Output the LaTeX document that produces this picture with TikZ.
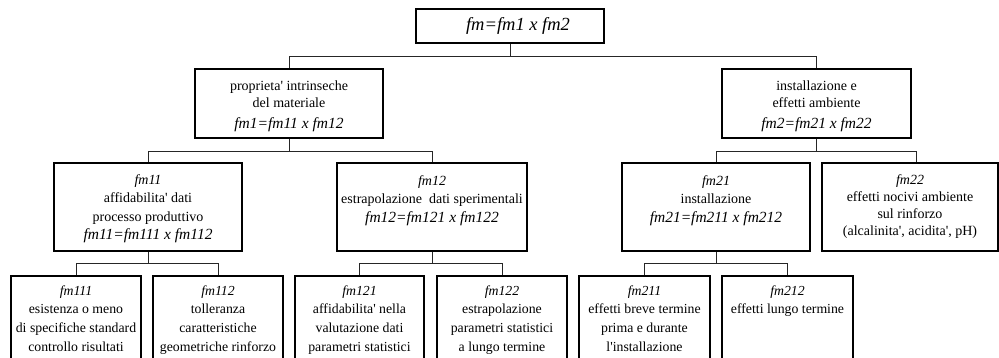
\documentclass[tikz,border=0pt]{standalone}
\usepackage{fontspec}
\setmainfont{Liberation Serif}
\newcommand\q{\textquotesingle}
\newcommand\fml{\fontsize{15.5}{18}\selectfont\itshape}
\begin{document}
\begin{tikzpicture}[x=1pt,y=-1pt,
  box/.style={draw=black, line width=1.8pt, inner sep=0pt},
  conn/.style={draw=black!85, line width=1pt},
  txt/.style={anchor=north, inner sep=0pt, align=center},
  labA/.style={font=\fontsize{14}{17}\selectfont},
  labB/.style={font=\fontsize{14}{18.3}\selectfont},
  labC/.style={font=\fontsize{14}{17}\selectfont},
  labD/.style={font=\fontsize{13.8}{18.7}\selectfont}]
\useasboundingbox (0,0) rectangle (999,358);
\clip (0,0) rectangle (999,358);

% boxes
\node[box, minimum width=188pt, minimum height=34pt] (top) at (510,26) {};
\node[box, minimum width=188pt, minimum height=69pt] (p1) at (289,103.5) {};
\node[box, minimum width=189pt, minimum height=69pt] (p2) at (816.5,103.5) {};
\node[box, minimum width=188pt, minimum height=88pt] (fm11) at (148,207) {};
\node[box, minimum width=190pt, minimum height=88pt] (fm12) at (432,207) {};
\node[box, minimum width=188pt, minimum height=88pt] (fm21) at (716,207) {};
\node[box, minimum width=176pt, minimum height=88pt] (fm22) at (910,207) {};
\node[box, minimum width=130pt, minimum height=100pt] (fm111) at (76,326) {};
\node[box, minimum width=130pt, minimum height=100pt] (fm112) at (218,326) {};
\node[box, minimum width=129pt, minimum height=100pt] (fm121) at (359.5,326) {};
\node[box, minimum width=130pt, minimum height=100pt] (fm122) at (502,326) {};
\node[box, minimum width=131pt, minimum height=100pt] (fm211) at (644.5,326) {};
\node[box, minimum width=131pt, minimum height=100pt] (fm212) at (787.5,326) {};

% texts
\node[inner sep=0pt, font=\fontsize{18.5}{20}\selectfont\itshape] (ttop) at ([xshift=8pt]top.center) {fm=fm1 x fm2};
\node[txt, labA] (tp1) at ([yshift=-12pt]p1.north) {proprieta\q{} intrinseche\\ del materiale\\[4pt] {\fml fm1=fm11 x fm12}};
\node[txt, labA] (tp2) at ([yshift=-12pt]p2.north) {installazione e\\ effetti ambiente\\[4pt] {\fml fm2=fm21 x fm22}};
\node[txt, labB] (tfm11) at ([yshift=-12.5pt]fm11.north) {\textit{fm11}\\ affidabilita\q{} dati\\ processo produttivo\\ {\fml fm11=fm111 x fm112}};
\node[txt, labB] (tfm12) at ([yshift=-13.5pt]fm12.north) {\textit{fm12}\\ estrapolazione\ \ dati sperimentali\\ {\fml fm12=fm121 x fm122}};
\node[txt, labB] (tfm21) at ([yshift=-13.5pt]fm21.north) {\textit{fm21}\\ installazione\\ {\fml fm21=fm211 x fm212}};
\node[txt, labC] (tfm22) at ([yshift=-12.5pt]fm22.north) {\textit{fm22}\\ effetti nocivi ambiente\\ sul rinforzo\\ (alcalinita\q, acidita\q, pH)};
\node[txt, labD] (tfm111) at ([yshift=-10pt]fm111.north) {\textit{fm111}\\ esistenza o meno\\ di specifiche standard\\ controllo risultati};
\node[txt, labD] (tfm112) at ([yshift=-10pt]fm112.north) {\textit{fm112}\\ tolleranza\\ caratteristiche\\ geometriche rinforzo};
\node[txt, labD] (tfm121) at ([yshift=-10pt]fm121.north) {\textit{fm121}\\ affidabilita\q{} nella\\ valutazione dati\\ parametri statistici};
\node[txt, labD] (tfm122) at ([yshift=-10pt]fm122.north) {\textit{fm122}\\ estrapolazione\\ parametri statistici\\ a lungo termine};
\node[txt, labD] (tfm211) at ([yshift=-10pt]fm211.north) {\textit{fm211}\\ effetti breve termine\\ prima e durante\\ l\q installazione};
\node[txt, labD] (tfm212) at ([yshift=-10pt]fm212.north) {\textit{fm212}\\ effetti lungo termine};

% connectors
\draw[conn] (top.south) -- ++(0,13) coordinate (j0);
\draw[conn] (p1.north) |- (j0) -| (p2.north);
\draw[conn] (p1.south) -- ++(0,13) coordinate (j1);
\draw[conn] (fm11.north) |- (j1) -| (fm12.north);
\draw[conn] (p2.south) -- ++(0,13) coordinate (j2);
\draw[conn] (fm21.north) |- (j2) -| ([xshift=6pt]fm22.north);
\draw[conn] (fm11.south) -- ++(0,12) coordinate (j3);
\draw[conn] (fm111.north) |- (j3) -| (fm112.north);
\draw[conn] (fm12.south) -- ++(0,12) coordinate (j4);
\draw[conn] (fm121.north) |- (j4) -| (fm122.north);
\draw[conn] (fm21.south) -- ++(0,12) coordinate (j5);
\draw[conn] (fm211.north) |- (j5) -| (fm212.north);
\end{tikzpicture}
\end{document}
